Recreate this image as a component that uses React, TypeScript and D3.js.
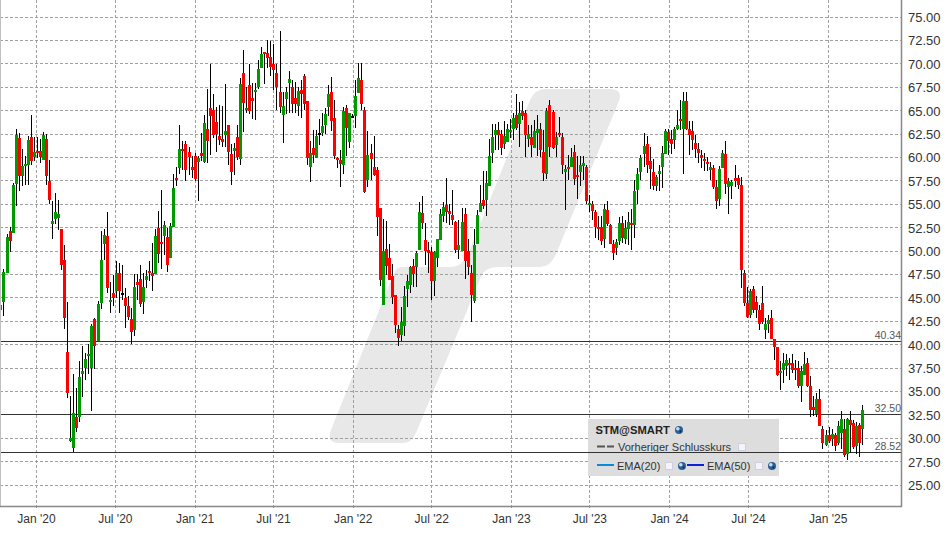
import React from "react";
import * as d3 from "d3";

const opens = [43.7,44.55,47.7,52.1,51.9,57.2,62.1,58,59.1,59.2,
62.2,60,60.7,60.7,59.7,62,57.5,52.9,53.45,53.55,
52.4,49,39.2,29.7,28.95,32.25,32.25,36.85,37.5,38.8,
37.5,42.75,40.4,44.45,50.7,51.65,44.55,45.55,45.7,47.65,
45.5,45,44.1,42.75,41.55,46.65,47,44.55,46.9,47.9,
47.65,47.5,52.5,51,51.65,51.45,49.3,52.6,57.85,58.9,
60.95,61.45,60.6,59,60.2,59.55,60.45,59.5,63,65.25,
65.05,63.8,62.3,61.95,62.4,63.45,60.35,60.7,62.15,59.8,
69,65.05,67.75,66.35,67,67.5,69.55,71.25,71.15,70.7,
70,69,67,64.5,66.25,67.95,67.5,66.35,65.5,67.2,
68.7,66,58.95,61,59.95,62.6,62.6,63.45,65.4,67,
64.2,59.95,59.7,59.2,65.25,61.65,64.4,64.45,66.85,68.25,
65.05,57.6,60.45,59,58.65,54.55,44.2,50.25,49.3,47.3,
45.35,41.7,41,41.95,45.9,46.4,48.35,48.25,50.15,54.1,
51.15,50.15,49.85,46.75,49.2,51.15,53.7,54.95,54.3,53.8,
53.05,50.15,49.95,53.9,50.05,47.6,44.7,50.7,54.2,55.5,
55.4,56.95,60.5,62.4,62.95,62.5,61.45,61.65,62.75,63.05,
64.55,63.6,64.95,64.75,61.95,62.2,61.05,62.6,63.05,60.6,
58.25,65.6,64.85,61.35,62.6,62.2,58.45,58.95,59,60.6,
58.15,58.45,59.1,59,54.95,55.05,54.2,52.6,52.6,51.3,
54.4,52.8,50.75,50.35,51.1,53,51.3,52.35,53,52.8,
56.55,58.45,60.4,61.45,59.65,58.45,56.95,58.25,59,60.4,
62.75,61.95,61.85,63.05,64.1,63.05,66.05,63.05,62.85,61.55,
60.9,60.3,59.85,59.55,58.7,58.9,56.85,55.6,58.9,60.4,
56.85,56.95,57.85,57.75,57,47.65,44.4,43.2,45.97,44.5,
43.75,44.4,41.6,42.25,42.85,40.55,39.75,37,37.25,37.7,
38.05,38.05,37.5,37.5,35.6,36.8,38,35.55,33.35,32.6,
34.2,31,29.3,30.3,29.95,30.3,29.5,30.55,31,28.35,
31.9,31.65,29.15,31.45,31];

const highs = [46,48.1,51.8,52.6,57.3,63,62.6,60.9,60.1,62.25,
64.5,62.2,62.2,62,62.7,62.5,59.7,55.3,56.2,55.4,
52.4,50.6,44.55,34.5,36.85,35.35,38.25,39.85,39.1,40.05,
42.2,42.85,44.65,52.15,52.4,54.15,46.7,47.45,48.95,48.7,
48.55,46,45.2,43.9,47.55,47.5,48.55,47.6,47.95,48.9,
50.85,52.3,54.3,56.55,53.2,52.45,53,58.25,59,63.5,
61.7,61.7,61.1,60.1,60.45,60.1,62.6,64.5,67.3,70,
66.75,65.4,65.6,65.5,67.85,63.5,61.4,61.5,63.45,68.5,
71.45,67.5,70,68,67.9,70.4,71.75,71.25,72.5,72.4,
72.1,70,73.5,67,67.55,69.2,68.25,68.1,67.5,68.25,
68.9,66,61.75,62.9,62.9,64.1,64.7,65.25,67.7,68.6,
66.1,60,60.8,65.35,65.6,64.75,64.6,68.25,70.05,70.05,
65.35,62.8,61.45,62.3,59,54.6,53.45,53.25,50.75,48.6,
45.35,42.05,44.05,46.3,47.4,48.45,49.15,50.05,55.2,55.85,
52.95,51,50.4,50.05,51.3,54.45,55.2,57.85,55,56.55,
53.25,53.3,54.6,54.6,51.25,48.5,52.35,54.35,57.1,58.5,
58.55,62,63.6,63.6,63.8,62.95,63.85,63.6,64.1,64.7,
66.8,65.95,66,65.1,63.5,63.5,64,64.55,63.7,62.9,
65.25,66.15,65.1,62.75,64.35,62.6,59.2,60.3,61,61.35,
60.15,60.15,60.15,59.2,56,55.3,54.4,53.7,53.7,55.05,
55.3,52.85,51.2,51.3,53.65,53.7,53.3,54.2,54.5,57.6,
58.85,60.3,62.6,62.25,61.15,59.8,58.1,59.2,61.25,63,
63.05,62.95,63.3,65.1,66.15,67,67,63.9,63.85,62.4,
61.5,60.8,60.45,60,59.55,59.2,57.6,59.05,60.8,61.8,
57.8,57.6,59.2,58.15,57.9,48,46.2,45.95,46.3,45.15,
44.25,46.3,42.85,43.2,43.75,40.55,39.75,38.25,39.1,38.95,
38.6,38.95,38.4,38.2,37.7,39.25,38.6,36.6,34.5,34.85,
35.25,31.3,30.9,31.25,31,30.55,31.8,32.9,32,32.2,
32.9,31.9,31.7,31.65,33.6];

const lows = [41.6,43.05,47.6,49.9,51.9,54.8,56.4,56.9,57,57,
59.2,59.6,59.9,59.4,59.7,57,55,51.3,52.9,52.2,
47.95,41.7,34.3,29.6,28.5,30.7,31.7,34.4,36.2,36.85,
32.9,37.4,40.4,43.8,49,45.55,43.4,44.1,45,43.4,
44.8,41.8,42.6,40.05,40.9,44.8,44,43.25,46.1,46.75,
45.7,47.5,48.7,48.1,49.6,47.75,49.3,52.6,56.9,58.25,
58.7,57.5,58.15,57.8,57.5,55.3,59.6,59.35,59.35,60.25,
62.05,60.6,61.3,61.15,61.15,59.2,57.05,58.1,59.7,59.2,
62.75,64.7,64.6,64.15,64,67.35,69.55,67.85,69.6,68.7,
67.2,65.05,64.7,61.55,64.6,64.7,64.7,64.7,64.4,64.25,
65.05,59.2,57.35,59.35,59.95,61.3,62.3,62.5,64.4,62.8,
59.8,58.85,56.85,58.25,60.1,61,64.2,63.1,66.85,65.05,
56.2,56.85,57.6,58.05,51.65,46.3,44.2,47.4,46.85,44.3,
41.2,39.8,40.35,40.9,44.05,45.55,46.15,46.15,50.15,52.3,
48.55,47.6,44.8,45.15,48.3,51.15,53.05,53,52.75,52.75,
49.75,49.1,49.95,47.05,47.4,42.45,44.4,50.7,54.2,54.45,
53.7,56.95,59.45,60.8,60.8,60.25,60.9,61.65,62.05,61.9,
62.9,61.15,64,60,61.1,60,61.05,60.15,60,57.5,
57.7,60,60.9,60,62.2,58.2,54.4,57.6,59,57.05,
55.6,56.95,57.6,55,54.2,53.3,51.4,51.2,50.6,50.3,
52.7,50.75,49.05,49.6,50.6,50.9,50.75,50.65,50.1,51.4,
55,57.6,58.95,58.3,56.65,56.55,56.4,56.4,56.7,60.4,
60.25,60.4,60.85,62.9,62.9,58.25,62.95,60.25,60.8,59.9,
59.4,58.85,58.6,58.5,57.55,56.65,54.5,54.85,58.85,56.1,
54,55.6,56.85,56.65,46.1,44.15,42.85,42.8,43.4,42.85,
41.6,42.2,40.6,41.2,40.6,38.35,36.6,35.15,35.9,36.6,
36.2,37,36.25,35.4,33.85,36.8,35.5,32.3,32.35,32.3,
31.3,28.8,29.2,29.5,29.2,28.6,29.3,28.8,28,27.65,
28.4,28.8,28.35,28,29.3];

const closes = [44.2,47.8,51.5,51.1,57.1,62.4,58.05,59.1,59.3,61.9,
59.65,60.55,60.5,60,62.4,58,55.4,53.25,54.2,54,
48.5,42.85,34.85,30,32.65,31.1,36.55,37.2,38.45,39,
42,39.85,44.35,49.05,51.75,46,44.75,45,47.65,45.7,
45.5,44.1,42.95,41.35,46.15,46.4,44.35,46.2,47.35,47.6,
47.3,51.55,49.7,50.8,52.8,48.5,52.7,56.75,57.6,60.85,
60.65,58.7,60,58.7,57.7,59.95,60.2,63.67,61.75,64.4,
62.4,62.5,61.85,61.65,62.8,60.55,58.45,61,60,67.85,
65.8,65.25,64.95,66,67.2,69.45,71.05,71.05,70.6,69.65,
69.35,67.5,65.4,65.5,67,68.35,65.7,65.7,67.1,66.75,
65.7,59.95,60.45,60.25,62.3,62.6,63.35,64.65,66.75,63.9,
60.15,59.7,59.3,64.95,63.15,64.75,64.4,66.55,68.45,65.7,
56.3,60.25,59.8,58.1,53.6,46.85,49.95,48.35,46.95,45.05,
42.05,40.75,42.45,45.15,46.75,48.25,47.5,49.75,54.2,52.95,
49.95,49.75,46.75,49.85,51.25,53.9,54.65,54.2,54,53.35,
50.15,50.6,53.15,48.9,48.25,45.35,50.6,53.8,55.1,54.85,
57.25,60.15,62.2,62.95,62.4,61,62.3,63.05,62.95,64.2,
63.15,64.75,64.45,62.4,62.5,61.35,62.85,63.05,60.8,58.35,
64.95,61.15,61,62.2,62.4,59.2,58.8,58.85,60.05,57.7,
57.9,59.2,59.4,55.35,55.15,54.3,52.6,52.35,51.1,54.5,
52.9,50.75,49.8,50.95,53,51.4,52.45,53.1,52.8,56.45,
58.25,59.95,61.25,59.2,58.8,56.95,57.9,58.55,60.5,62.85,
61.8,61.45,63.05,63.5,63.9,66.05,63.05,62.4,61.85,60.9,
60.5,59.95,59.65,59.3,59,56.85,55.35,58.8,60.5,57.2,
57.5,57.4,57.5,57.1,48,44.45,42.95,45.73,43.7,43.75,
42.25,42.4,42.15,42.6,40.65,39.75,36.7,37.15,38,38.4,
37.8,37.25,37.25,35.55,37.15,37.9,35.6,33,33,34.15,
31.3,29.5,30.3,29.7,30.5,29.2,31.35,32,28.25,32.05,
31.45,29.1,31.3,29.5,33.05];

const firstWeek = "2019-10-11";
const tickDates = ["2020-01-01","2020-07-01","2021-01-01","2021-07-01","2022-01-01","2022-07-01","2023-01-01","2023-07-01","2024-01-01","2024-07-01","2025-01-01"];
const tickLabels = ["Jan '20","Jul '20","Jan '21","Jul '21","Jan '22","Jul '22","Jan '23","Jul '23","Jan '24","Jul '24","Jan '25"];
const priceTicks = d3.range(25, 75.01, 2.5);
const priceLines = [40.34, 32.5, 28.52];
const priceLineLabels = ["40.34", "32.50", "28.52"];
const legendTitle = "STM@SMART";
const legendPrev = "Vorheriger Schlusskurs";
const legendEma = ["EMA(20)", "EMA(50)"];

const FONT = "'Liberation Sans', Arial, sans-serif";
const plotRight = 902;
const plotBottom = 507;

const parse = (s: string) => new Date(s + "T00:00:00Z");
const start = parse(firstWeek);
const x = d3.scaleUtc().domain([start, d3.utcDay.offset(start, 7 * 284)]).range([0.95, 0.95 + 284 * 3.0333]);
const y = d3.scaleLinear().domain([25, 75]).range([485, 17]);
const row = (v: number) => Math.floor(y(v)) + 0.5;

const LOGO =
  "M400 267 L450 267 Q462 267 468 254 L530 100 Q535 89 546 89 L610 89 Q623 89 619 101 L557 252 Q551 267 540 267 L497 267 Q485 267 481 277 L416 433 Q412 443 402 443 L339 443 Q326 443 331 430 L392 278 Q396 267 400 267 Z";

function Globe({ cx, cy }: { cx: number; cy: number }) {
  return (
    <g>
      <circle cx={cx} cy={cy} r={4} fill="#2a5f94" />
      <circle cx={cx - 1.2} cy={cy - 1.2} r={1.8} fill="#c4dcf0" />
      <circle cx={cx + 1.5} cy={cy + 1.5} r={1} fill="#0d2a48" />
    </g>
  );
}

function Box({ cx, cy }: { cx: number; cy: number }) {
  return <rect x={cx - 3.5} y={cy - 3.5} width={7} height={7} fill="#f4f4ff" stroke="#cfcfe0" strokeWidth={1} />;
}

export default function App() {
  const candles = closes.map((c, i) => ({
    col: Math.floor(x(d3.utcDay.offset(start, 7 * i))),
    o: opens[i], h: highs[i], l: lows[i], c,
  }));
  return (
    <svg width={948} height={534} style={{ position: "absolute", left: 0, top: 0, display: "block", background: "#fff" }} fontFamily={FONT}>
      <path d={LOGO} fill="#e8e8e8" />
      {priceTicks.map((v) => (
        <line key={v} x1={0} x2={plotRight} y1={row(v)} y2={row(v)} stroke="#a0a0a0" strokeDasharray="3,2" />
      ))}
      {tickDates.map((d) => {
        const px = Math.floor(x(parse(d))) + 0.5;
        return <line key={d} x1={px} x2={px} y1={0} y2={plotBottom + 3} stroke="#a0a0a0" strokeDasharray="3,2" />;
      })}
      <rect x={588} y={419} width={191} height={57} fill="#dddddd" />
      {priceLines.map((v) => (
        <line key={v} x1={0} x2={plotRight} y1={row(v)} y2={row(v)} stroke="#333" />
      ))}
      {candles.map((k, i) => {
        const top = Math.round(y(Math.max(k.o, k.c)));
        const bottom = Math.round(y(Math.min(k.o, k.c)));
        const fill = k.o === k.c ? "#000" : k.c > k.o ? "#009900" : "#ff0000";
        return (
          <g key={i}>
            <line x1={k.col + 0.5} x2={k.col + 0.5} y1={Math.round(y(k.h))} y2={Math.round(y(k.l))} stroke="#000" />
            <rect x={k.col - 1} y={top} width={3} height={Math.max(bottom - top, 2)} fill={fill} />
          </g>
        );
      })}
      <line x1={0.5} x2={0.5} y1={0} y2={plotBottom} stroke="#c0c0c0" />
      <line x1={plotRight - 0.5} x2={plotRight - 0.5} y1={0} y2={plotBottom} stroke="#888" strokeWidth={1.5} />
      <line x1={0} x2={plotRight} y1={plotBottom - 0.5} y2={plotBottom - 0.5} stroke="#888" strokeWidth={1.5} />
      {priceTicks.map((v) => (
        <text key={v} x={908} y={y(v) + 5} fontSize={13} fill="#333">{d3.format(".2f")(v)}</text>
      ))}
      {tickDates.map((d, i) => (
        <text key={d} x={x(parse(d))} y={523} fontSize={12} fill="#333" textAnchor="middle">{tickLabels[i]}</text>
      ))}
      {priceLines.map((v, i) => (
        <text key={v} x={901} y={y(v) - 2.5} fontSize={10.5} fill="#555" textAnchor="end">{priceLineLabels[i]}</text>
      ))}
      <text x={595.5} y={434} fontSize={11.2} fontWeight="bold" fill="#222">{legendTitle}</text>
      <Globe cx={679} cy={430} />
      <line x1={597} x2={614} y1={446.5} y2={446.5} stroke="#555" strokeWidth={2} strokeDasharray="8,2" />
      <text x={618} y={451} fontSize={11} fill="#333">{legendPrev}</text>
      <Box cx={742} cy={447} />
      <line x1={597} x2={614} y1={465} y2={465} stroke="#0a8bd8" strokeWidth={2} />
      <text x={617} y={470} fontSize={11} fill="#333">{legendEma[0]}</text>
      <Box cx={669} cy={466} />
      <Globe cx={682} cy={466} />
      <line x1={687} x2={704} y1={465} y2={465} stroke="#0a23d8" strokeWidth={2} />
      <text x={707} y={470} fontSize={11} fill="#333">{legendEma[1]}</text>
      <Box cx={759} cy={466} />
      <Globe cx={772} cy={466} />
    </svg>
  );
}
